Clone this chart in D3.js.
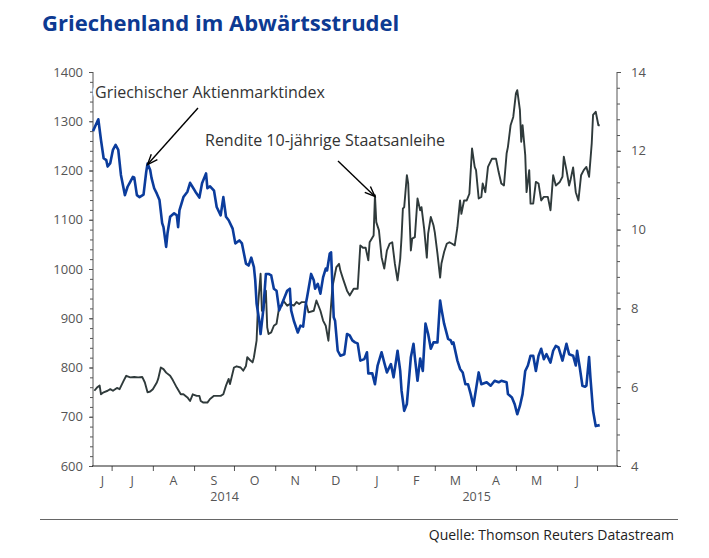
<!DOCTYPE html>
<html><head><meta charset="utf-8">
<script src="https://cdn.jsdelivr.net/npm/d3@7"></script>
<style>
html,body{margin:0;padding:0;background:#fff;}
svg{display:block;}
text{font-family:"Open Sans","Noto Sans",sans-serif;}
</style></head>
<body>
<svg id="chart" width="709" height="558"></svg>
<script>
const title = "Griechenland im Abwärtsstrudel";
const source = "Quelle: Thomson Reuters Datastream";
const stockLabel = "Griechischer Aktienmarktindex";
const yieldLabel = "Rendite 10-jährige Staatsanleihe";

const leftTicks = [600,700,800,900,1000,1100,1200,1300,1400];
const rightTicks = [4,6,8,10,12,14];
const monthLabels = ["J","J","A","S","O","N","D","J","F","M","A","M","J"];
const yearLabels = ["2014","2015"];

const stockDates = ["2014-06-17","2014-06-21","2014-06-23","2014-06-25","2014-06-27","2014-06-28","2014-06-30","2014-07-02","2014-07-04","2014-07-06","2014-07-08","2014-07-11","2014-07-13","2014-07-15","2014-07-17","2014-07-18","2014-07-20","2014-07-22","2014-07-25","2014-07-27","2014-07-28","2014-07-30","2014-07-31","2014-08-02","2014-08-04","2014-08-06","2014-08-08","2014-08-09","2014-08-11","2014-08-12","2014-08-14","2014-08-17","2014-08-19","2014-08-20","2014-08-21","2014-08-24","2014-08-27","2014-08-29","2014-08-31","2014-09-02","2014-09-05","2014-09-07","2014-09-10","2014-09-11","2014-09-13","2014-09-16","2014-09-18","2014-09-21","2014-09-23","2014-09-25","2014-09-27","2014-09-30","2014-10-02","2014-10-05","2014-10-07","2014-10-10","2014-10-12","2014-10-14","2014-10-16","2014-10-17","2014-10-18","2014-10-20","2014-10-21","2014-10-23","2014-10-25","2014-10-27","2014-10-29","2014-10-31","2014-11-02","2014-11-04","2014-11-06","2014-11-10","2014-11-12","2014-11-13","2014-11-15","2014-11-18","2014-11-20","2014-11-22","2014-11-24","2014-11-25","2014-11-28","2014-11-30","2014-12-01","2014-12-03","2014-12-05","2014-12-07","2014-12-09","2014-12-10","2014-12-12","2014-12-13","2014-12-15","2014-12-16","2014-12-18","2014-12-20","2014-12-23","2014-12-25","2014-12-27","2014-12-29","2014-12-31","2015-01-02","2015-01-04","2015-01-07","2015-01-09","2015-01-10","2015-01-13","2015-01-15","2015-01-17","2015-01-20","2015-01-22","2015-01-24","2015-01-27","2015-01-29","2015-02-01","2015-02-03","2015-02-04","2015-02-06","2015-02-08","2015-02-11","2015-02-13","2015-02-14","2015-02-16","2015-02-18","2015-02-20","2015-02-22","2015-02-24","2015-02-26","2015-02-28","2015-03-03","2015-03-05","2015-03-06","2015-03-08","2015-03-11","2015-03-13","2015-03-14","2015-03-15","2015-03-18","2015-03-20","2015-03-22","2015-03-24","2015-03-26","2015-03-28","2015-03-30","2015-04-01","2015-04-03","2015-04-05","2015-04-09","2015-04-12","2015-04-15","2015-04-18","2015-04-20","2015-04-24","2015-04-25","2015-04-28","2015-04-30","2015-05-02","2015-05-04","2015-05-06","2015-05-08","2015-05-10","2015-05-12","2015-05-14","2015-05-16","2015-05-18","2015-05-20","2015-05-22","2015-05-24","2015-05-27","2015-05-29","2015-05-31","2015-06-02","2015-06-05","2015-06-08","2015-06-10","2015-06-13","2015-06-15","2015-06-16","2015-06-18","2015-06-20","2015-06-22","2015-06-23","2015-06-25","2015-06-26","2015-06-28","2015-06-30","2015-07-03"];
const stockValues = [1280,1304,1262,1225,1221,1208,1215,1242,1252,1242,1191,1150,1167,1177,1187,1186,1150,1146,1151,1197,1214,1201,1185,1164,1153,1140,1093,1085,1045,1072,1106,1113,1109,1085,1119,1146,1157,1175,1166,1157,1145,1174,1194,1164,1168,1159,1126,1109,1146,1106,1099,1082,1052,1058,1052,1011,1007,1023,1004,977,930,895,868,916,990,990,987,960,956,916,929,956,960,916,895,871,885,883,929,943,990,977,960,970,950,983,1001,997,1031,1034,902,895,834,824,827,868,865,855,851,849,814,817,831,788,788,766,804,831,810,790,807,780,834,793,753,712,726,821,848,821,773,818,793,889,868,838,851,851,936,919,889,858,855,848,851,814,797,790,766,766,746,722,756,790,766,770,763,773,770,773,770,746,739,726,705,722,746,793,804,824,824,793,824,838,817,827,810,834,844,841,814,848,827,824,804,834,800,763,761,763,821,780,712,681,683];

const yieldDates = ["2014-06-18","2014-06-20","2014-06-22","2014-06-23","2014-06-25","2014-06-28","2014-06-30","2014-07-02","2014-07-05","2014-07-07","2014-07-10","2014-07-12","2014-07-15","2014-07-18","2014-07-21","2014-07-24","2014-07-26","2014-07-28","2014-07-30","2014-08-01","2014-08-04","2014-08-05","2014-08-07","2014-08-09","2014-08-11","2014-08-14","2014-08-16","2014-08-19","2014-08-22","2014-08-24","2014-08-27","2014-08-29","2014-08-31","2014-09-03","2014-09-05","2014-09-06","2014-09-08","2014-09-11","2014-09-13","2014-09-16","2014-09-18","2014-09-21","2014-09-23","2014-09-25","2014-09-27","2014-09-28","2014-10-01","2014-10-03","2014-10-06","2014-10-08","2014-10-10","2014-10-11","2014-10-13","2014-10-15","2014-10-16","2014-10-18","2014-10-19","2014-10-21","2014-10-22","2014-10-23","2014-10-25","2014-10-26","2014-10-27","2014-10-29","2014-10-31","2014-11-02","2014-11-04","2014-11-06","2014-11-07","2014-11-10","2014-11-12","2014-11-15","2014-11-17","2014-11-19","2014-11-21","2014-11-24","2014-11-26","2014-11-30","2014-12-02","2014-12-05","2014-12-07","2014-12-09","2014-12-11","2014-12-12","2014-12-14","2014-12-17","2014-12-19","2014-12-20","2014-12-22","2014-12-25","2014-12-27","2014-12-30","2015-01-01","2015-01-02","2015-01-04","2015-01-06","2015-01-08","2015-01-10","2015-01-11","2015-01-14","2015-01-15","2015-01-16","2015-01-18","2015-01-20","2015-01-22","2015-01-24","2015-01-26","2015-01-28","2015-01-30","2015-02-01","2015-02-03","2015-02-04","2015-02-05","2015-02-06","2015-02-08","2015-02-09","2015-02-11","2015-02-12","2015-02-14","2015-02-16","2015-02-18","2015-02-19","2015-02-21","2015-02-23","2015-02-24","2015-02-26","2015-02-28","2015-03-01","2015-03-03","2015-03-05","2015-03-06","2015-03-08","2015-03-10","2015-03-12","2015-03-14","2015-03-16","2015-03-18","2015-03-20","2015-03-21","2015-03-23","2015-03-25","2015-03-27","2015-03-29","2015-03-31","2015-04-01","2015-04-03","2015-04-05","2015-04-06","2015-04-08","2015-04-10","2015-04-13","2015-04-16","2015-04-18","2015-04-20","2015-04-22","2015-04-24","2015-04-25","2015-04-27","2015-04-29","2015-05-01","2015-05-02","2015-05-04","2015-05-05","2015-05-06","2015-05-08","2015-05-09","2015-05-11","2015-05-12","2015-05-14","2015-05-16","2015-05-18","2015-05-20","2015-05-22","2015-05-25","2015-05-27","2015-05-29","2015-05-31","2015-06-03","2015-06-05","2015-06-06","2015-06-08","2015-06-10","2015-06-11","2015-06-13","2015-06-15","2015-06-17","2015-06-19","2015-06-21","2015-06-23","2015-06-25","2015-06-26","2015-06-27","2015-06-28","2015-06-30","2015-07-02","2015-07-03"];
const yieldValues = [5.91,5.99,6.04,5.82,5.87,5.91,5.95,5.91,5.98,5.95,6.16,6.29,6.25,6.26,6.25,6.26,6.12,5.87,5.89,5.95,6.12,6.21,6.50,6.46,6.37,6.29,6.18,5.99,5.82,5.82,5.74,5.65,5.82,5.78,5.78,5.65,5.61,5.61,5.70,5.78,5.78,5.78,5.82,6.04,6.21,6.08,6.50,6.53,6.50,6.42,6.54,6.76,6.69,6.63,6.76,7.18,8.03,8.88,7.94,7.94,8.45,7.52,7.35,7.39,7.56,7.61,8.03,8.07,8.20,8.07,8.11,8.07,8.16,8.11,8.16,8.16,7.90,7.94,8.20,7.94,7.69,7.56,7.18,7.61,8.54,9.05,9.13,8.96,8.75,8.45,8.33,8.50,8.50,8.50,9.60,9.54,9.54,9.22,9.68,9.85,10.87,10.19,9.98,9.30,9.01,9.47,9.64,9.68,9.13,8.71,9.26,9.81,10.53,10.57,11.38,11.17,9.47,9.77,9.81,10.79,10.49,10.57,10.02,9.29,9.90,10.32,10.11,9.93,9.39,8.78,9.14,9.43,9.64,9.68,9.64,9.60,10.06,10.74,10.40,10.74,10.74,10.91,12.06,11.59,11.51,10.79,10.83,11.17,10.95,11.59,11.80,11.80,11.46,11.17,11.12,11.93,12.10,12.65,12.86,13.46,13.54,13.03,12.23,12.65,11.89,10.95,11.51,10.66,10.66,11.21,11.17,10.74,10.83,10.83,10.49,11.38,11.12,11.21,11.34,11.85,11.51,11.12,11.25,11.58,10.95,10.74,11.38,11.51,11.59,11.34,11.76,12.19,12.91,12.99,12.65,12.65];

(function(){
const parse = d3.timeParse("%Y-%m-%d");
const stock = stockDates.map((d,i)=>({date:parse(d), value:stockValues[i]}));
const yld = yieldDates.map((d,i)=>({date:parse(d), value:yieldValues[i]}));

const svg = d3.select("#chart");
const X0 = 93, X1 = 617, Y0 = 72, Y1 = 466;

const x = d3.scaleTime().domain([parse("2014-06-17"), parse("2015-07-16")]).range([X0, X1]);
const yL = d3.scaleLinear().domain([600,1400]).range([Y1, Y0]);
const yR = d3.scaleLinear().domain([4,14]).range([Y1, Y0]);

const axisColor = "#555";
const labelColor = "#555";

// Title
svg.append("text").attr("x",42).attr("y",31)
  .attr("font-size",22).attr("font-weight",700).attr("fill","#0d3a92")
  .text(title);

// Left axis
const gL = svg.append("g").attr("transform",`translate(${X0},0)`);
gL.call(d3.axisLeft(yL).tickValues(d3.range(600,1401,20)).tickSize(3).tickFormat(""));
gL.append("g").call(d3.axisLeft(yL).tickValues(leftTicks).tickSize(4).tickPadding(6).tickFormat(d3.format("d")));
gL.selectAll(".domain").remove();
gL.selectAll("line").attr("stroke",axisColor);
gL.selectAll("text").attr("font-size",13).attr("fill",labelColor).attr("font-family","Open Sans, sans-serif");
gL.append("line").attr("x1",0).attr("x2",0).attr("y1",Y0).attr("y2",Y1).attr("stroke",axisColor);

// Right axis
const gR = svg.append("g").attr("transform",`translate(${X1},0)`);
gR.call(d3.axisRight(yR).tickValues(d3.range(4,14.01,0.4)).tickSize(3).tickFormat(""));
gR.append("g").call(d3.axisRight(yR).tickValues(rightTicks).tickSize(4).tickPadding(10).tickFormat(d3.format("d")));
gR.selectAll(".domain").remove();
gR.selectAll("line").attr("stroke",axisColor);
gR.selectAll("text").attr("font-size",13).attr("fill",labelColor).attr("font-family","Open Sans, sans-serif");
gR.append("line").attr("x1",0).attr("x2",0).attr("y1",Y0).attr("y2",Y1).attr("stroke",axisColor);

// Bottom axis
const monthStarts = d3.timeMonth.range(parse("2014-07-01"), parse("2015-07-02"));
const gB = svg.append("g").attr("transform",`translate(0,${Y1})`);
gB.call(d3.axisBottom(x).tickValues(monthStarts).tickSize(5).tickFormat(""));
gB.selectAll(".domain").remove();
gB.selectAll("line").attr("stroke",axisColor);
gB.append("line").attr("x1",X0-1).attr("x2",X1+1).attr("y1",0).attr("y2",0).attr("stroke","#222").attr("stroke-width",1.2);

const bounds = [x.domain()[0]].concat(monthStarts);
monthLabels.forEach((m,i)=>{
  const cx = (x(bounds[i]) + x(bounds[i+1]))/2;
  svg.append("text").attr("x",cx).attr("y",Y1+19).attr("text-anchor","middle")
    .attr("font-size",12.5).attr("fill",labelColor).text(m);
});
const yearSpans = [[x.domain()[0], parse("2015-01-01")],[parse("2015-01-01"), parse("2015-07-01")]];
yearLabels.forEach((yv,i)=>{
  const cx = (x(yearSpans[i][0]) + x(yearSpans[i][1]))/2;
  svg.append("text").attr("x",cx).attr("y",Y1+35).attr("text-anchor","middle")
    .attr("font-size",12.5).attr("fill",labelColor).text(yv);
});

// Lines
const lineL = d3.line().x(d=>x(d.date)).y(d=>yL(d.value));
const lineR = d3.line().x(d=>x(d.date)).y(d=>yR(d.value));
svg.append("path").datum(yld).attr("d",lineR).attr("fill","none")
  .attr("stroke","#2f3a3b").attr("stroke-width",1.9).attr("stroke-linejoin","round");
svg.append("path").datum(stock).attr("d",lineL).attr("fill","none")
  .attr("stroke","#0b3c9c").attr("stroke-width",2.6).attr("stroke-linejoin","round");

// Annotations
function annot(txt, tx, ty, anchorDate, anchorVal, scale, sx, sy){
  svg.append("text").attr("x",tx).attr("y",ty).attr("font-size",16).attr("fill","#333")
    .attr("stroke","#fff").attr("stroke-width",6).attr("paint-order","stroke").text(txt);
  const ex = x(parse(anchorDate)), ey = scale(anchorVal);
  svg.append("line").attr("x1",sx).attr("y1",sy).attr("x2",ex).attr("y2",ey)
    .attr("stroke","#000").attr("stroke-width",1.4);
  const ang = Math.atan2(ey-sy, ex-sx), L = 11, w = 0.38;
  const p1 = [ex - L*Math.cos(ang-w), ey - L*Math.sin(ang-w)];
  const p2 = [ex - L*Math.cos(ang+w), ey - L*Math.sin(ang+w)];
  svg.append("path").attr("d",`M${p1[0]},${p1[1]}L${ex},${ey}L${p2[0]},${p2[1]}`)
    .attr("fill","none").attr("stroke","#000").attr("stroke-width",1.4);
}
annot(stockLabel, 95, 98, "2014-07-28", 1212, yL, 198, 108);
annot(yieldLabel, 205, 146, "2015-01-15", 10.84, yR, 338, 161);

// Source rule and text
svg.append("line").attr("x1",40).attr("x2",678).attr("y1",519.5).attr("y2",519.5)
  .attr("stroke","#666").attr("stroke-width",1);
svg.append("text").attr("x",674).attr("y",540).attr("text-anchor","end")
  .attr("font-size",14).attr("fill","#222").text(source);
})();
</script>
</body></html>
